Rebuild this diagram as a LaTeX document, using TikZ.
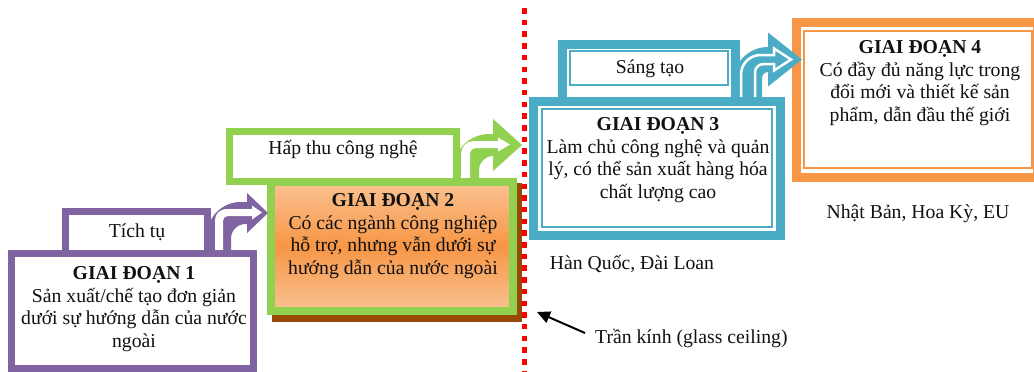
\documentclass[tikz,border=0pt]{standalone}
\usepackage{fontspec}
\setmainfont{Liberation Serif}
\usetikzlibrary{arrows.meta}
\definecolor{purp}{HTML}{8064A2}
\definecolor{grn}{HTML}{92D050}
\definecolor{blu}{HTML}{4BACC6}
\definecolor{org}{HTML}{F79646}
\definecolor{orglt}{HTML}{FAC291}
\definecolor{brn}{HTML}{984807}
\definecolor{txt}{HTML}{111111}
% #1 style, #2 stem left x, #3 stem right x, #4 stem bottom y, #5 band top y,
% #6 band bottom y, #7 head base x, #8 head half height, #9 tip x
\newcommand{\bentarrow}[9]{%
 \pgfmathsetmacro{\ra}{min(1.4*(#3-#2),#7-#2)}%
 \pgfmathsetmacro{\rb}{min(0.6*(#3-#2),#7-#3)}%
 \path[#1] (#2,#4) -- (#2,{#5+\ra}) .. controls (#2,{#5+0.45*\ra}) and ({#2+0.45*\ra},#5) .. ({#2+\ra},#5)
  -- (#7,#5) -- (#7,{(#5+#6)/2-#8}) -- (#9,{(#5+#6)/2}) -- (#7,{(#5+#6)/2+#8})
  -- (#7,#6) -- ({#3+\rb},#6) .. controls ({#3+0.45*\rb},#6) and (#3,{#6+0.45*\rb}) .. (#3,{#6+\rb})
  -- (#3,#4) -- cycle;}
\tikzset{
  lbl/.style={text=txt, align=center, inner sep=0pt, font=\fontsize{19.7}{22.5}\selectfont},
  thickp/.style={draw=purp, line width=7pt, fill=white},
  thickg/.style={draw=grn, line width=7pt, fill=white},
  thickb/.style={draw=blu, line width=9pt, fill=white},
  thinb/.style={draw=blu, line width=2pt},
  thicko/.style={draw=org, line width=9pt, fill=white},
  thino/.style={draw=org, line width=2pt},
}
\begin{document}
\begin{tikzpicture}[x=1pt,y=-1pt]
\useasboundingbox (0,0) rectangle (1034,372);
\clip (0,0) rectangle (1034,372);
\fill[white] (0,0) rectangle (1034,372);
% ---- stage 2 ----
\draw[thickg] (229.5,131.5) rectangle (456.5,181.5);
\bentarrow{fill=grn}{453}{479}{181}{134}{156}{493}{26}{522}
\bentarrow{fill=white}{461}{470}{181}{141}{148}{498}{7}{510}
\fill[brn] (272,183) rectangle (522,322);
\shade[top color=orglt, bottom color=orglt, middle color=org] (271,182) rectangle (513,311);
\draw[grn, line width=8pt] (271,182) rectangle (513,311);
% ---- stage 1 ----
\draw[thickp] (65.5,211.5) rectangle (207.5,253.5);
\bentarrow{fill=purp}{207}{231}{252}{202}{224}{247}{20}{268}
\bentarrow{fill=white}{215}{223}{252}{209}{216}{252}{7}{262}
\draw[thickp] (11.5,253.5) rectangle (253.5,368.5);
% ---- stage 4 ----
\draw[thicko] (796.5,22.5) rectangle (1037.5,177.5);
\draw[thino] (804,30.5) rectangle (1032,168);
% ---- stage 3 ----
\draw[thickb] (562.5,44.5) rectangle (735.5,101.5);
\draw[thinb] (569.5,51) rectangle (728,84.5);
\bentarrow{fill=blu}{733}{762}{99}{47}{72}{768}{27}{802}
\bentarrow{draw=white,line width=2.5pt}{741}{755}{99}{55}{64}{774}{11}{791}
\draw[thickb] (533.5,101.5) rectangle (780.5,235.5);
\draw[thinb] (541.5,108.5) rectangle (772,226.5);
% ---- glass ceiling ----
\coordinate (ctop) at (524.5,8);
\coordinate (cbot) at (524.5,372);
\draw[red, line width=5pt, dash pattern=on 5.5pt off 6.2pt] (ctop) -- (cbot);
% ---- texts ----
\node[lbl] (t1) at (137,232) {Tích tụ};
\node[lbl] (s1) at (134,309) {\textbf{GIAI ĐOẠN 1}\\Sản xuất/chế tạo đơn giản\\dưới sự hướng dẫn của nước\\ngoài};
\node[lbl] (t2) at (343,149) {Hấp thu công nghệ};
\node[lbl] (s2) at (393,236) {\textbf{GIAI ĐOẠN 2}\\Có các ngành công nghiệp\\hỗ trợ, nhưng vẫn dưới sự\\hướng dẫn của nước ngoài};
\node[lbl] (t3) at (650,69) {Sáng tạo};
\node[lbl] (s3) at (658,160) {\textbf{GIAI ĐOẠN 3}\\Làm chủ công nghệ và quản\\lý, có thể sản xuất hàng hóa\\chất lượng cao};
\node[lbl] (s4) at (920,83) {\textbf{GIAI ĐOẠN 4}\\Có đầy đủ năng lực trong\\đổi mới và thiết kế sản\\phẩm, dẫn đầu thế giới};
\node[lbl] (c3) at (632,264) {Hàn Quốc, Đài Loan};
\node[lbl] (c4) at (918,214) {Nhật Bản, Hoa Kỳ, EU};
\node[lbl, anchor=west] (gc) at (595,338) {Trần kính (glass ceiling)};
\coordinate (gcs) at (585,333);
\coordinate (gce) at (537,312);
\draw[black, line width=2pt, -{Triangle[length=13pt,width=12pt]}] (gcs) -- (gce);
\end{tikzpicture}
\end{document}
